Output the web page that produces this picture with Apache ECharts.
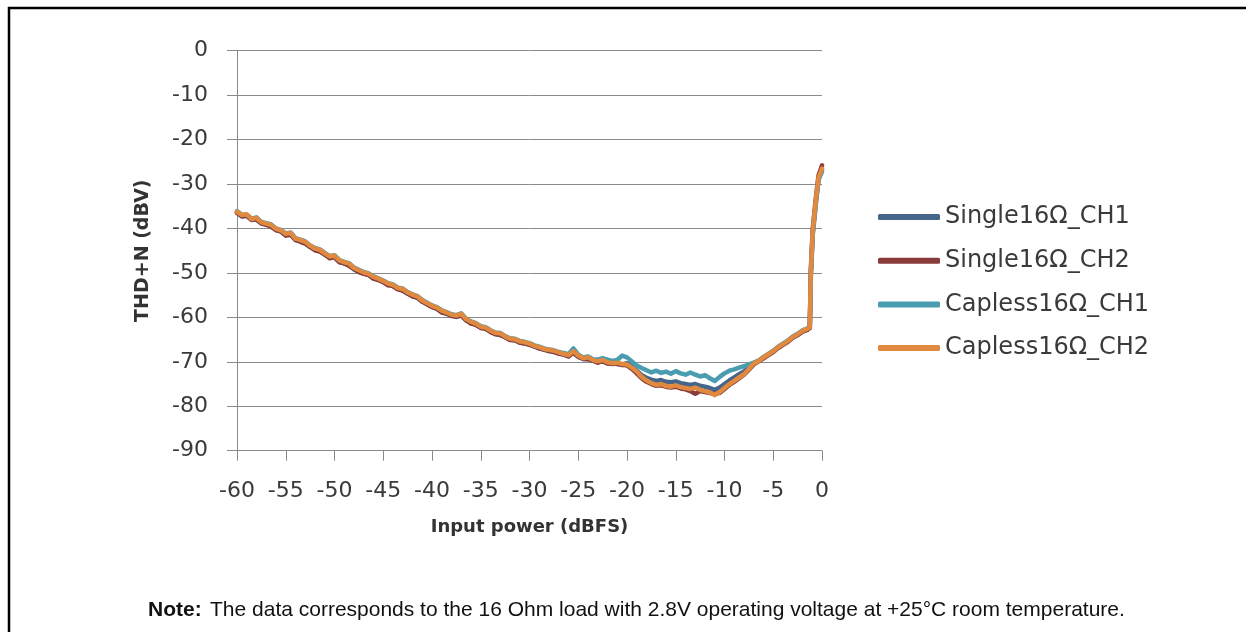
<!DOCTYPE html>
<html><head><meta charset="utf-8">
<script src="https://cdn.jsdelivr.net/npm/echarts@6/dist/echarts.min.js"></script>
<style>html,body{margin:0;padding:0;background:#fff}#c{width:1246px;height:632px}</style>
</head><body><div id="c"></div>
<script>
var seriesNames = ['Single16Ω_CH1','Single16Ω_CH2','Capless16Ω_CH1','Capless16Ω_CH2'];
var xTicks = [-60,-55,-50,-45,-40,-35,-30,-25,-20,-15,-10,-5,0];
var yTicks = [0,-10,-20,-30,-40,-50,-60,-70,-80,-90];
var xs = [-60,-59.5,-59,-58.5,-58,-57.5,-57,-56.5,-56,-55.5,-55,-54.5,-54,-53.5,-53,-52.5,-52,-51.5,-51,-50.5,
-50,-49.5,-49,-48.5,-48,-47.5,-47,-46.5,-46,-45.5,-45,-44.5,-44,-43.5,-43,-42.5,-42,-41.5,-41,-40.5,
-40,-39.5,-39,-38.5,-38,-37.5,-37,-36.5,-36,-35.5,-35,-34.5,-34,-33.5,-33,-32.5,-32,-31.5,-31,-30.5,
-30,-29.5,-29,-28.5,-28,-27.5,-27,-26.5,-26,-25.5,-25,-24.5,-24,-23.5,-23,-22.5,-22,-21.5,-21,-20.5,
-20,-19.5,-19,-18.5,-18,-17.5,-17,-16.5,-16,-15.5,-15,-14.5,-14,-13.5,-13,-12.5,-12,-11.5,-11,-10.5,
-10,-9.5,-9,-8.5,-8,-7.5,-7,-6.5,
-6,-5.5,-5,-4.5,-4,-3.5,-3,-2.5,-2,-1.5,-1.25,-1.15,-0.95,-0.6,-0.35,0];
var single1 = [-36.4,-37.3,-37.1,-38.1,-37.9,-38.8,-39.2,-39.5,-40.3,-40.7,-41.5,-41.3,-42.6,-42.9,-43.3,-44.2,-44.8,-45.1,-45.9,-46.5,
-46.5,-47.5,-47.9,-48.3,-49.2,-49.7,-50.1,-50.5,-51.2,-51.5,-52.1,-52.6,-53.0,-53.6,-53.9,-54.7,-55.2,-55.6,-56.4,-57.1,
-57.6,-58.1,-58.8,-59.2,-59.6,-59.9,-59.5,-60.7,-61.3,-61.7,-62.3,-62.6,-63.2,-63.8,-63.9,-64.5,-65.0,-65.2,-65.6,-65.9,
-66.1,-66.6,-66.9,-67.3,-67.5,-67.8,-68.1,-68.4,-68.7,-68.0,-68.8,-69.4,-69.3,-69.8,-70.1,-69.9,-70.3,-70.5,-70.4,-70.6,
-70.3,-71.0,-72.0,-73.0,-73.6,-74.0,-74.3,-74.1,-74.5,-74.6,-74.4,-74.8,-75.0,-75.2,-75.0,-75.4,-75.6,-75.9,-76.3,-75.8,
-75.0,-74.2,-73.5,-72.8,-72.2,-71.2,-70.3,-69.8,
-69.1,-68.4,-67.7,-66.8,-66.1,-65.4,-64.5,-63.9,-63.1,-62.7,-62.3,-51.0,-41.5,-33.8,-29.0,-26.8];
var single2 = [-36.5,-37.2,-37.2,-38.0,-38.0,-38.9,-39.1,-39.6,-40.4,-40.6,-41.6,-41.4,-42.5,-43.0,-43.4,-44.1,-44.9,-45.2,-45.8,-46.7,
-46.4,-47.6,-47.8,-48.4,-49.1,-49.8,-50.2,-50.4,-51.3,-51.6,-52.0,-52.8,-52.9,-53.7,-54.0,-54.6,-55.3,-55.5,-56.5,-57.0,
-57.7,-58.0,-58.9,-59.1,-59.7,-59.8,-59.6,-60.6,-61.4,-61.6,-62.4,-62.5,-63.3,-63.7,-64.0,-64.4,-65.1,-65.1,-65.7,-65.8,
-66.2,-66.5,-67.0,-67.2,-67.6,-67.7,-68.2,-68.3,-68.8,-67.9,-68.9,-69.3,-69.4,-69.7,-70.2,-69.8,-70.4,-70.4,-70.5,-70.7,
-70.8,-71.6,-72.6,-73.7,-74.5,-75.0,-75.4,-75.3,-75.6,-75.8,-75.6,-76.0,-76.2,-76.6,-77.2,-76.6,-76.8,-77.0,-77.3,-77.0,
-76.1,-75.2,-74.5,-73.7,-72.9,-71.8,-70.6,-69.9,
-69.2,-68.5,-67.8,-66.9,-66.2,-65.5,-64.6,-64.0,-63.2,-62.8,-62.4,-49.5,-40.0,-32.5,-28.0,-25.8];
var capless1 = [-36.1,-36.9,-36.9,-37.8,-37.5,-38.5,-38.8,-39.1,-40.0,-40.3,-41.1,-40.9,-42.2,-42.5,-42.9,-43.8,-44.4,-44.7,-45.5,-46.2,
-46.0,-47.1,-47.5,-47.8,-48.8,-49.3,-49.8,-50.1,-50.8,-51.2,-51.7,-52.3,-52.6,-53.3,-53.5,-54.3,-54.8,-55.2,-56.1,-56.7,
-57.3,-57.7,-58.4,-58.8,-59.3,-59.5,-59.1,-60.3,-60.9,-61.3,-62.0,-62.2,-62.9,-63.4,-63.5,-64.2,-64.7,-64.8,-65.3,-65.5,
-65.8,-66.3,-66.6,-67.0,-67.2,-67.4,-67.8,-68.0,-68.3,-67.0,-68.4,-69.0,-68.8,-69.4,-69.5,-69.2,-69.5,-69.8,-69.6,-68.6,
-69.0,-69.9,-70.8,-71.4,-71.9,-72.4,-72.0,-72.5,-72.2,-72.7,-72.1,-72.6,-72.9,-72.4,-72.9,-73.3,-73.0,-73.7,-74.3,-73.4,
-72.6,-72.0,-71.7,-71.3,-71.0,-70.6,-70.2,-69.7,
-68.9,-68.2,-67.5,-66.6,-65.9,-65.2,-64.3,-63.7,-62.9,-62.5,-62.1,-50.5,-41.0,-33.5,-29.0,-27.2];
var capless2 = [-36.2,-37.0,-36.8,-37.9,-37.6,-38.6,-38.9,-39.2,-40.1,-40.4,-41.2,-41.0,-42.3,-42.6,-43.0,-43.9,-44.5,-44.8,-45.6,-46.3,
-46.1,-47.2,-47.6,-47.9,-48.9,-49.4,-49.9,-50.2,-50.9,-51.3,-51.8,-52.4,-52.7,-53.4,-53.6,-54.4,-54.9,-55.3,-56.2,-56.8,
-57.4,-57.8,-58.5,-58.9,-59.4,-59.6,-59.2,-60.4,-61.0,-61.4,-62.1,-62.3,-63.0,-63.5,-63.6,-64.3,-64.8,-64.9,-65.4,-65.6,
-65.9,-66.4,-66.7,-67.1,-67.3,-67.5,-67.9,-68.2,-68.5,-67.6,-68.6,-69.2,-69.0,-69.6,-69.9,-69.6,-70.1,-70.3,-70.2,-70.5,
-70.6,-71.3,-72.2,-73.4,-74.2,-74.8,-75.2,-75.0,-75.4,-75.6,-75.3,-75.7,-75.9,-76.1,-75.8,-76.3,-76.6,-76.9,-77.5,-76.8,
-75.9,-75.0,-74.3,-73.5,-72.8,-71.6,-70.4,-69.8,
-69.0,-68.3,-67.6,-66.7,-66.0,-65.3,-64.4,-63.8,-63.0,-62.6,-62.2,-50.0,-40.5,-33.0,-28.5,-26.5];

var colors = ['#46658a','#8a3b3b','#4a9db1','#e0893f'];
var ys = [single1, single2, capless1, capless2];
function pairs(y){ return xs.map(function(x,i){ return [x, y[i]]; }); }

var chart = echarts.init(document.getElementById('c'), null, {renderer:'canvas'});
var axisFont = 'DejaVu Sans';
chart.setOption({
  animation:false,
  backgroundColor:'#fff',
  grid:{left:237, right:424, top:50.7, bottom:181.3, containLabel:false},
  xAxis:{
    type:'value', min:-60, max:0, interval:5,
    name:'Input power (dBFS)', nameLocation:'middle', nameGap:68,
    nameTextStyle:{fontFamily:axisFont, fontWeight:'bold', fontSize:18, color:'#333'},
    axisLine:{show:true, onZero:false, lineStyle:{color:'#8a8a8a', width:1}},
    axisTick:{show:true, length:10, lineStyle:{color:'#8a8a8a'}},
    axisLabel:{margin:30, fontFamily:axisFont, fontSize:22, color:'#3a3a3a',
      formatter:function(v){ return xTicks.indexOf(v)>=0 ? String(v) : ''; }},
    splitLine:{show:false}
  },
  yAxis:{
    type:'value', min:-90, max:0, interval:10,
    name:'THD+N (dBV)', nameLocation:'middle', nameGap:84, nameRotate:90,
    nameTextStyle:{fontFamily:axisFont, fontWeight:'bold', fontSize:19, color:'#333'},
    axisLine:{show:true, onZero:false, lineStyle:{color:'#8a8a8a', width:1}},
    axisTick:{show:true, length:10, lineStyle:{color:'#8a8a8a'}},
    axisLabel:{margin:29, fontFamily:axisFont, fontSize:22, color:'#3a3a3a',
      formatter:function(v){ return yTicks.indexOf(v)>=0 ? String(v) : ''; }},
    splitLine:{show:true, lineStyle:{color:'#8a8a8a', width:1}}
  },
  legend:{
    orient:'vertical', left:873, top:200, itemWidth:62, itemHeight:6, itemGap:19.7,
    icon:'roundRect',
    textStyle:{fontFamily:axisFont, fontSize:24, color:'#3a3a3a', lineHeight:24},
    data:seriesNames
  },
  series: seriesNames.map(function(n,i){
    return {name:n, type:'line', data:pairs(ys[i]), showSymbol:false, symbol:'none',
      lineStyle:{color:colors[i], width:4.5, join:'round', cap:'round'}, itemStyle:{color:colors[i]}, z:2+i};
  }),
  graphic:[
    {type:'rect', shape:{x:9, y:8, width:1400, height:800}, style:{fill:'none', stroke:'#000', lineWidth:2.5}, silent:true},
    {type:'text', left:148, top:600, style:{text:'Note:', font:'bold 21px "Liberation Sans"', fill:'#111'}},
    {type:'text', left:210, top:600, style:{text:'The data corresponds to the 16 Ohm load with 2.8V operating voltage at +25°C room temperature.', font:'21px "Liberation Sans"', fill:'#111'}}
  ]
});
</script></body></html>
